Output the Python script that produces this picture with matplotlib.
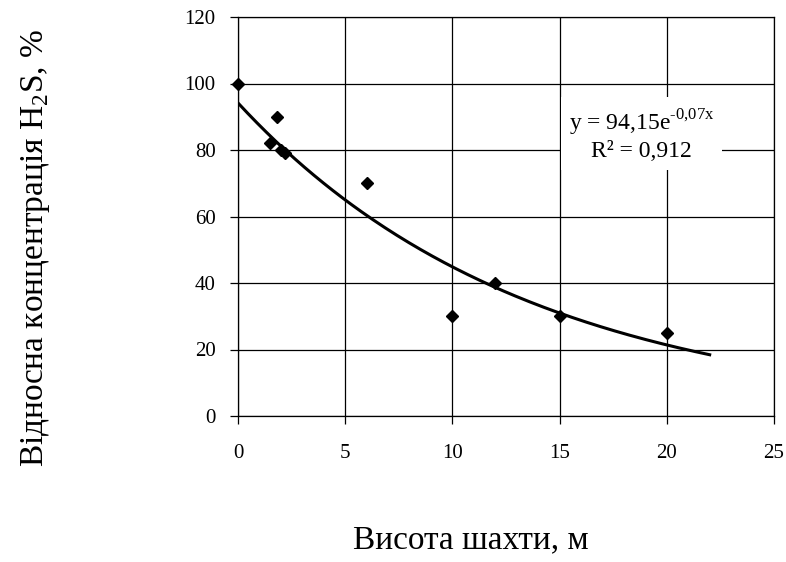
import numpy as np
import matplotlib
matplotlib.use("Agg")
import matplotlib.pyplot as plt

plt.rcParams['font.family'] = ['Liberation Serif', 'DejaVu Serif']
plt.rcParams['mathtext.fontset'] = 'custom'
plt.rcParams['mathtext.rm'] = 'Liberation Serif'

# measured points
height_m = [0, 1.5, 1.8, 2.0, 2.2, 6, 10, 12, 15, 20]
conc_pct = [100, 82, 90, 80, 79, 70, 30, 40, 30, 25]
x_ticks = [0, 5, 10, 15, 20, 25]
y_ticks = [0, 20, 40, 60, 80, 100, 120]

# exponential trend line fitted to the points (as Excel does it)
b, ln_a = np.polyfit(height_m, np.log(conc_pct), 1)
x_fit = np.linspace(0, 22, 200)
y_fit = np.exp(ln_a) * np.exp(b * x_fit)

fig = plt.figure(figsize=(7.86, 5.62), dpi=100)
ax = fig.add_axes([238 / 786, 146 / 562, 536 / 786, 399 / 562])

ax.plot(x_fit, y_fit, color='black', lw=2.2, zorder=3)
ax.plot(height_m, conc_pct, 'D', color='black', ms=6.5, zorder=4, clip_on=False)

ax.set_xlim(0, 25)
ax.set_ylim(0, 120)
ax.set_xticks(x_ticks)
ax.set_yticks(y_ticks)
ax.grid(True, color='black', lw=0.9)
ax.set_axisbelow(True)
for s in ax.spines.values():
    s.set_color('black')
    s.set_linewidth(0.9)
ax.tick_params(axis='both', direction='out', length=6, width=0.9, colors='black',
               labelsize=15)
ax.tick_params(axis='x', pad=14)
ax.tick_params(axis='y', pad=10)

ax.text(18.82, 84.5, 'y = 94,15e$^{\\text{-0,07x}}$\nR² = 0,912',
        ha='center', va='center', fontsize=17, multialignment='center',
        linespacing=1.15, zorder=5,
        bbox=dict(facecolor='white', edgecolor='none', boxstyle='square,pad=0.35'))

fig.text(36 / 786, 1 - 248 / 562, 'Відносна концентрація H$_{\\mathregular{2}}$S, %',
         rotation=90, ha='center', va='center', fontsize=24)
fig.text(471 / 786, 1 - 540 / 562, 'Висота шахти, м',
         ha='center', va='center', fontsize=24)

fig.savefig('out.png', dpi=100)
